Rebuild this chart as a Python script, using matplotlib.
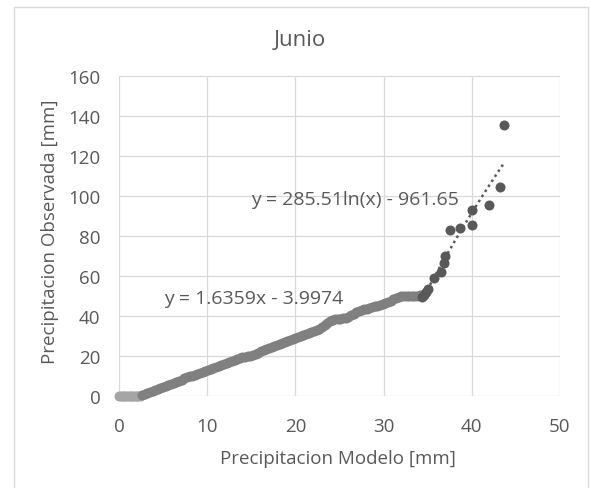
import numpy as np
import matplotlib
matplotlib.use("Agg")
import matplotlib.pyplot as plt
from matplotlib.patches import Rectangle

plt.rcParams['font.family'] = ['Open Sans', 'DejaVu Sans']

# Days with zero observed precipitation
zero_x = [0.0, 0.2, 0.4, 0.6, 0.8, 1.0, 1.2, 1.4, 1.6, 1.8, 2.0, 2.2, 2.4]
zero_y = [0.0] * len(zero_x)

# Main body of the quantile pairs (model vs observed)
low_x = [2.6, 2.9, 3.2, 3.5, 3.8, 4.1, 4.4, 4.7, 5.0, 5.3, 5.6, 5.9, 6.2, 6.5,
         6.8, 7.1, 7.4, 7.7, 8.0, 8.3, 8.6, 8.9, 9.2, 9.5, 9.8, 10.1, 10.4,
         10.7, 11.0, 11.3, 11.6, 11.9, 12.2, 12.5, 12.8, 13.1, 13.4, 13.7,
         14.0, 14.3, 14.6, 14.9, 15.2, 15.5, 15.8, 16.1, 16.4, 16.7, 17.0,
         17.3, 17.6, 17.9, 18.2, 18.5, 18.8, 19.1, 19.4, 19.7, 20.0, 20.3,
         20.6, 20.9, 21.2, 21.5, 21.8, 22.1, 22.4, 22.7, 23.0, 23.3, 23.6,
         23.9, 24.2, 24.5, 24.8, 25.1, 25.4, 25.7, 26.0, 26.3, 26.6, 26.9,
         27.2, 27.5, 27.8, 28.1, 28.4, 28.7, 29.0, 29.3, 29.6, 29.9, 30.2,
         30.5, 30.8, 31.1, 31.4, 31.7, 32.0, 32.3, 32.6, 32.9, 33.2, 33.5,
         33.8, 34.1, 34.3]
low_y = [0.3, 0.8, 1.4, 1.9, 2.3, 2.8, 3.3, 3.8, 4.4, 4.9, 5.5, 6.0, 6.6, 7.1,
         7.6, 8.2, 8.8, 9.3, 9.8, 10.2, 10.6, 11.0, 11.5, 12.0, 12.5, 12.9,
         13.4, 13.9, 14.4, 14.9, 15.5, 16.1, 16.7, 17.2, 17.7, 18.2, 18.6,
         19.0, 19.3, 19.6, 19.9, 20.2, 20.5, 21.0, 21.6, 22.3, 23.0, 23.6,
         24.1, 24.6, 25.1, 25.5, 25.9, 26.3, 26.8, 27.3, 27.8, 28.3, 28.8,
         29.3, 29.9, 30.5, 31.0, 31.4, 31.9, 32.5, 33.0, 33.6, 34.4, 35.3,
         36.3, 37.3, 38.0, 38.3, 38.5, 38.7, 38.9, 39.2, 39.7, 40.4, 41.1,
         41.8, 42.4, 42.9, 43.3, 43.7, 44.1, 44.5, 44.9, 45.2, 45.5, 45.8,
         46.3, 46.9, 47.6, 48.3, 49.0, 49.6, 50.0, 49.9, 49.9, 50.0, 50.0,
         50.1, 50.2, 50.3, 50.6]

# Upper tail
high_x = [34.3, 34.6, 34.8, 35.0, 35.7, 36.5, 36.9, 37.0, 37.5, 38.7, 40.0,
          40.0, 41.9, 43.2, 43.6]
high_y = [49.6, 50.6, 52.0, 53.4, 59.0, 61.8, 66.4, 70.2, 83.0, 83.8, 85.5,
          93.0, 95.5, 104.7, 135.5]

# Trendline coefficients
lin_a, lin_b = 1.6359, -3.9974
log_a, log_b = 285.51, -961.65

x_ticks = [0, 10, 20, 30, 40, 50]
y_ticks = [0, 20, 40, 60, 80, 100, 120, 140, 160]

TXT = '#595959'
GRID = '#D9D9D9'

fig = plt.figure(figsize=(5.9, 4.89), dpi=100)
fig.patch.set_facecolor('white')
fig.patches.append(Rectangle((13.5 / 590, -0.05), (588 - 13.5) / 590, 1.05 - 7.5 / 489,
                             transform=fig.transFigure, fill=False,
                             edgecolor=GRID, linewidth=1.0))

ax = fig.add_axes([119 / 590, 1 - 397 / 489, (560 - 119) / 590, (397 - 77) / 489])
ax.set_xlim(0, 50)
ax.set_ylim(0, 160)
ax.set_xticks(x_ticks)
ax.set_yticks(y_ticks)
for s in ax.spines.values():
    s.set_visible(False)
ax.grid(True, color=GRID, linewidth=0.9)
ax.set_axisbelow(True)
ax.tick_params(length=0, labelsize=13.5, labelcolor=TXT)
ax.tick_params(axis='x', pad=15)
ax.tick_params(axis='y', pad=13.5)

ms = 52
ax.scatter(zero_x, zero_y, s=ms, color='#A5A5A5', linewidths=0, zorder=3, clip_on=False)
ax.scatter(low_x, low_y, s=ms, color='#808080', linewidths=0, zorder=3, clip_on=False)
ax.scatter(high_x, high_y, s=ms, color='#595959', linewidths=0, zorder=3, clip_on=False)

# Linear trendline across the main body
lx = np.array([min(low_x), max(low_x)])
ax.plot(lx, lin_a * lx + lin_b, linestyle=(0, (1, 1.4)), color='#808080',
        linewidth=1.8, zorder=2.5)

# Logarithmic trendline over the upper tail
hx = np.linspace(min(high_x), max(high_x), 100)
ax.plot(hx, log_a * np.log(hx) + log_b, linestyle=(0, (1, 1.4)), color='#595959',
        linewidth=1.8, zorder=4)

ax.text(15.0, 98.5, 'y = 285.51ln(x) - 961.65', fontsize=14, color=TXT,
        ha='left', va='center')
ax.text(5.1, 49.0, 'y = 1.6359x - 3.9974', fontsize=14, color=TXT,
        ha='left', va='center')

fig.text(300 / 590, 1 - 40 / 489, 'Junio', fontsize=16, color=TXT,
         ha='center', va='center')
fig.text(338 / 590, 1 - 459.5 / 489, 'Precipitacion Modelo [mm]', fontsize=13.5,
         color=TXT, ha='center', va='center')
fig.text(50 / 590, 1 - 232 / 489, 'Precipitacion Observada [mm]', fontsize=13.5,
         color=TXT, ha='center', va='center', rotation=90)

fig.savefig('out.png', dpi=100)
